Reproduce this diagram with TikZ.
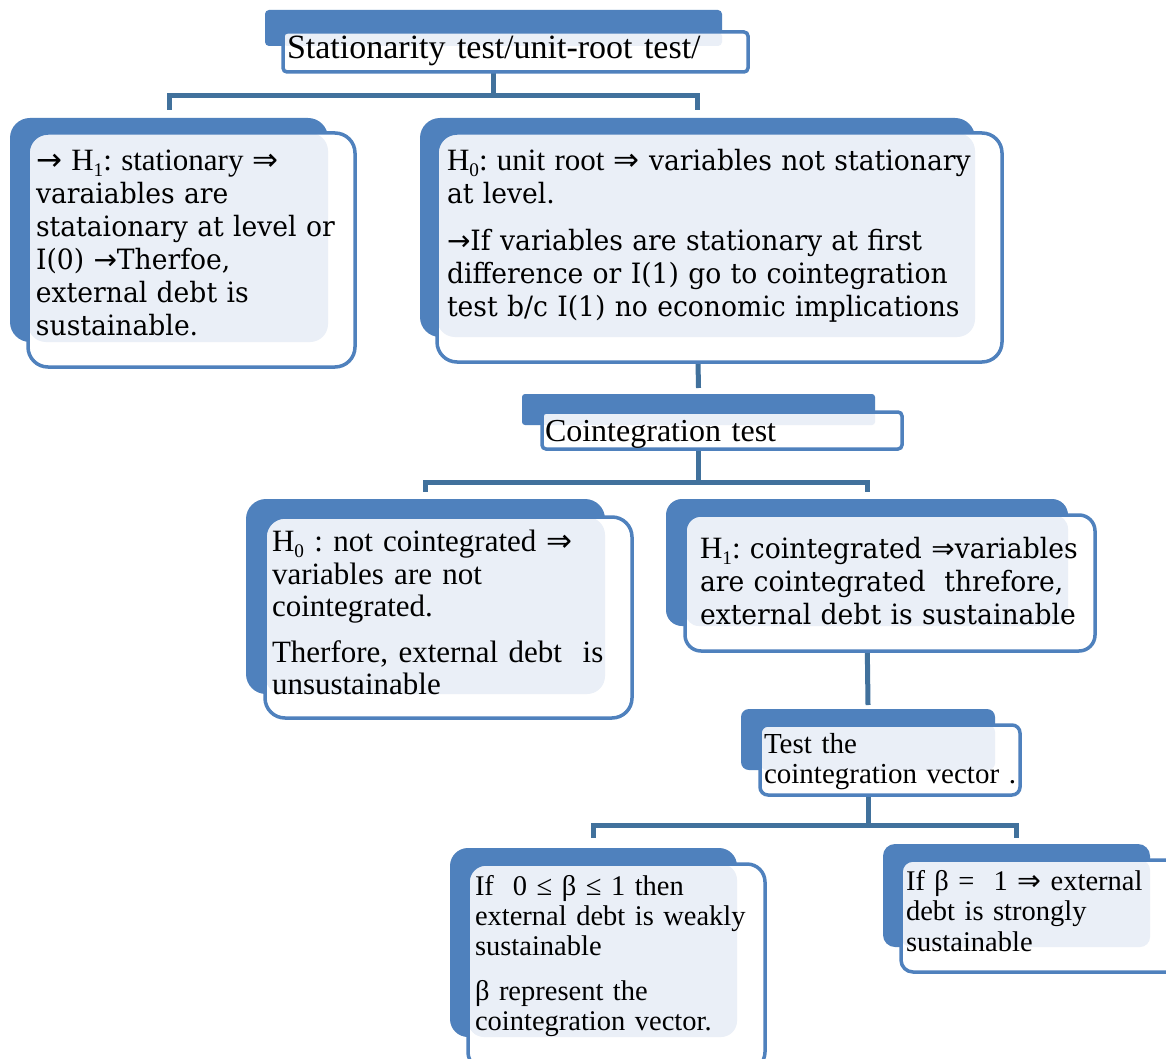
\documentclass[tikz,border=0pt]{standalone}
\usepackage{fontspec}
\setmainfont{Liberation Serif}
\newfontfamily\cambria[FakeStretch=0.95]{DejaVu Serif}
\newfontfamily\symf{DejaVu Sans}
\usetikzlibrary{calc}
\definecolor{accent}{HTML}{4F81BD}
\definecolor{lightbg}{HTML}{EAEFF7}
\definecolor{connc}{HTML}{41719C}
\newcommand\hsub[1]{\raisebox{-0.2em}{\scalebox{0.62}{#1}}}
\newcommand\fs[2]{\fontsize{#1}{#2}\selectfont}
\newcommand\Ra{{\symf ⇒}}
\newcommand\ra{{\symf →}}
\pgfdeclarelayer{background}
\pgfsetlayers{background,main}
\frenchspacing
\begin{document}
\frenchspacing
\begin{tikzpicture}[x=1pt,y=-1pt,
  backbox/.style={anchor=north west, inner sep=0pt, outer sep=0pt, fill=accent, draw=none},
  frontfill/.style={anchor=north west, inner sep=0pt, outer sep=0pt, fill=white, draw=none},
  frontline/.style={draw=accent, line width=3.5pt},
  conn/.style={draw=connc, line width=5pt},
  txt/.style={anchor=north west, inner sep=0pt, outer sep=0pt, align=left, text width=700pt}]
\useasboundingbox (0,0) rectangle (1166,1059);
\clip (0,0) rectangle (1166,1059);

% A
\node[backbox, rounded corners=4pt, minimum width=457pt, minimum height=36pt] (bA) at (265,10) {};
\node[frontfill, rounded corners=4pt, minimum width=465pt, minimum height=40pt] (fA) at (283,32) {};
\fill[lightbg, rounded corners=4pt] (fA.north west) rectangle (bA.south east);
\draw[frontline, rounded corners=4pt] (fA.north west) rectangle (fA.south east);
% B
\node[backbox, rounded corners=20pt, minimum width=318pt, minimum height=224pt] (bB) at (10,118) {};
\node[frontfill, rounded corners=20pt, minimum width=327pt, minimum height=234pt] (fB) at (28,133) {};
\fill[lightbg, rounded corners=18pt] (fB.north west) rectangle (bB.south east);
\draw[frontline, rounded corners=20pt] (fB.north west) rectangle (fB.south east);
% C
\node[backbox, rounded corners=20pt, minimum width=555pt, minimum height=219pt] (bC) at (420,118) {};
\node[frontfill, rounded corners=20pt, minimum width=565pt, minimum height=229pt] (fC) at (437,133) {};
\fill[lightbg, rounded corners=18pt] (fC.north west) rectangle (bC.south east);
\draw[frontline, rounded corners=20pt] (fC.north west) rectangle (fC.south east);
% D
\node[backbox, rounded corners=3pt, minimum width=353pt, minimum height=31pt] (bD) at (522,394) {};
\node[frontfill, rounded corners=4pt, minimum width=360pt, minimum height=37pt] (fD) at (542,412) {};
\fill[lightbg, rounded corners=3pt] (fD.north west) rectangle (bD.south east);
\draw[frontline, rounded corners=4pt] (fD.north west) rectangle (fD.south east);
% E
\node[backbox, rounded corners=20pt, minimum width=359pt, minimum height=195pt] (bE) at (246,499) {};
\node[frontfill, rounded corners=20pt, minimum width=367pt, minimum height=201pt] (fE) at (265,517) {};
\fill[lightbg, rounded corners=18pt] (fE.north west) rectangle (bE.south east);
\draw[frontline, rounded corners=20pt] (fE.north west) rectangle (fE.south east);
% F
\node[backbox, rounded corners=16pt, minimum width=402pt, minimum height=127pt] (bF) at (666,499) {};
\node[frontfill, rounded corners=16pt, minimum width=410pt, minimum height=136pt] (fF) at (685,515) {};
\fill[lightbg, rounded corners=14pt] (fF.north west) rectangle (bF.south east);
\draw[frontline, rounded corners=16pt] (fF.north west) rectangle (fF.south east);
% G
\node[backbox, rounded corners=8pt, minimum width=254pt, minimum height=61pt] (bG) at (741,709) {};
\node[frontfill, rounded corners=8pt, minimum width=260pt, minimum height=70pt] (fG) at (760,725) {};
\fill[lightbg, rounded corners=7pt] (fG.north west) rectangle (bG.south east);
\draw[frontline, rounded corners=8pt] (fG.north west) rectangle (fG.south east);
% H
\node[backbox, rounded corners=18pt, minimum width=287pt, minimum height=189pt] (bH) at (450,848) {};
\node[frontfill, rounded corners=18pt, minimum width=297pt, minimum height=206pt] (fH) at (468,864) {};
\fill[lightbg, rounded corners=16pt] (fH.north west) rectangle (bH.south east);
\draw[frontline, rounded corners=18pt] (fH.north west) rectangle (fH.south east);
% I
\node[backbox, rounded corners=12pt, minimum width=267pt, minimum height=103pt] (bI) at (883,844) {};
\node[frontfill, rounded corners=12pt, minimum width=279pt, minimum height=112pt] (fI) at (901,860) {};
\fill[lightbg, rounded corners=10pt] (fI.north west) rectangle (bI.south east);
\draw[frontline, rounded corners=12pt] (fI.north west) rectangle (fI.south east);

% connectors
\begin{pgfonlayer}{background}
\fill[white] (0,0) rectangle (1166,1059);
\coordinate (kA) at (bA.south |- 0,96);
\draw[conn] (bA.south) -- (kA) -| ([yshift=8pt]bB.north);
\draw[conn] (kA) -| ([yshift=8pt]bC.north);
\draw[conn] (bC.south) -- ([yshift=6pt]bD.north);
\coordinate (kD) at (bD.south |- 0,482);
\draw[conn] (bD.south) -- (kD) -| ([yshift=7pt]bE.north);
\draw[conn] (kD) -| ([yshift=7pt]bF.north);
\draw[conn] (bF.south) -- ([yshift=4pt]bG.north);
\coordinate (kG) at (bG.south |- 0,825);
\draw[conn] (bG.south) -- (kG) -| ([yshift=10pt]bH.north);
\draw[conn] (kG) -| ([yshift=6pt]bI.north);
\end{pgfonlayer}

% texts
\node[txt, font=\fs{34}{40}] (tA) at (287,31) {\strut Stationarity test/unit-root test/};
\node[txt, font={\cambria\fs{28}{33}}] (tB) at (36,147)
  {\strut{\rmfamily\fs{31}{33}\ra{} H\hsub{1}: stationary \Ra}\\
   varaiables are\\
   stataionary at level or\\
   I(0) \ra{}Therfoe,\\
   external debt is\\
   sustainable.};
\node[txt, font={\cambria\fs{28}{33}}] (tC) at (447,147)
  {\strut{\rmfamily\fs{31}{33}H\hsub{0}: unit root \Ra} variables not stationary\\
   at level.\\[14pt]
   \ra If variables are stationary at first\\
   difference or I(1) go to cointegration\\
   test b/c I(1) no economic implications};
\node[txt, font=\fs{32}{36}] (tD) at (545,416) {\strut Cointegration test};
\node[txt, font=\fs{31}{32.5}] (tE) at (272,529)
  {\strut H\hsub{0} : not cointegrated \Ra\\
   variables are not\\
   cointegrated.\\[13pt]
   Therfore, external debt\ \ is\\
   unsustainable};
\node[txt, font={\cambria\fs{28}{33}}] (tF) at (700,535)
  {\strut{\rmfamily\fs{31}{33}H\hsub{1}:} cointegrated \Ra variables\\
   are cointegrated\ \ threfore,\\
   external debt is sustainable};
\node[txt, font=\fs{29}{30}] (tG) at (764,732)
  {\strut Test the\\
   cointegration vector .};
\node[txt, font=\fs{28.5}{30}] (tH) at (475,874)
  {\strut If\ \ 0 ≤ β ≤ 1 then\\
   external debt is weakly\\
   sustainable\\[15pt]
   β represent the\\
   cointegration vector.};
\node[txt, font=\fs{28.5}{30.5}] (tI) at (906,869)
  {\strut If β =\ \ 1 \Ra{} external\\
   debt is strongly\\
   sustainable};
\end{tikzpicture}
\end{document}
